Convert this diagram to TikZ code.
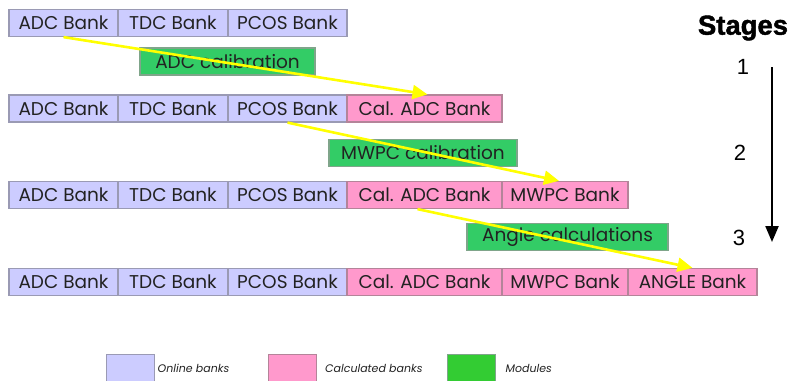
\documentclass[tikz,border=0pt]{standalone}
\usepackage{fontspec}
\setmainfont{Poppins}
\newfontfamily\headfont{Liberation Sans}
\newfontfamily\stagesfont{Liberation Sans Bold}[FakeBold=1.6]
\usetikzlibrary{arrows.meta}

\definecolor{onlinefill}{HTML}{CCCCFF}
\definecolor{onlinedraw}{HTML}{9A9AB4}
\definecolor{calcfill}{HTML}{FF99CC}
\definecolor{calcdraw}{HTML}{B48499}
\definecolor{modfill}{HTML}{33CC66}
\definecolor{modlegend}{HTML}{33CC33}
\definecolor{moddraw}{HTML}{7FA58A}
\definecolor{flowyellow}{HTML}{FFFF00}
\definecolor{inktext}{HTML}{222222}

\tikzset{
  bank/.style={draw, line width=1.2pt, inner sep=0pt, minimum height=27pt,
    font=\fontsize{18.5}{18.5}\selectfont, text=inktext},
  online/.style={bank, fill=onlinefill, draw=onlinedraw},
  calc/.style={bank, fill=calcfill, draw=calcdraw},
  module/.style={bank, fill=modfill, draw=moddraw},
  flow/.style={draw=flowyellow, line width=2.6pt,
    -{Triangle[length=15pt,width=14pt]}},
  stagearrow/.style={draw=black, line width=2.2pt,
    -{Triangle[length=16pt,width=13pt]}},
  stagenum/.style={font=\headfont\fontsize{22}{22}\selectfont, inner sep=0pt},
  legendbox/.style={draw, line width=1pt, inner sep=0pt, minimum width=48pt, minimum height=27pt},
  legendtext/.style={font=\itshape\fontsize{11}{11}\selectfont, text=inktext, anchor=west, inner sep=0pt}
}

\begin{document}
\begin{tikzpicture}[x=1pt, y=-1pt]
\useasboundingbox (0,0) rectangle (791,380);

% stage 0: online banks only
\node[online, minimum width=109pt] (a1) at (63.5,23) {ADC Bank};
\node[online, minimum width=110pt] (t1) at (173,23) {TDC Bank};
\node[online, minimum width=119pt] (p1) at (287.5,23) {PCOS Bank};

% stage 1
\node[online, minimum width=109pt] (a2) at (63.5,108.5) {ADC Bank};
\node[online, minimum width=110pt] (t2) at (173,108.5) {TDC Bank};
\node[online, minimum width=119pt] (p2) at (287.5,108.5) {PCOS Bank};
\node[calc, minimum width=155pt] (c2) at (424.5,108.5) {Cal. ADC Bank};

% stage 2
\node[online, minimum width=109pt] (a3) at (63.5,195) {ADC Bank};
\node[online, minimum width=110pt] (t3) at (173,195) {TDC Bank};
\node[online, minimum width=119pt] (p3) at (287.5,195) {PCOS Bank};
\node[calc, minimum width=155pt] (c3) at (424.5,195) {Cal. ADC Bank};
\node[calc, minimum width=126pt] (m3) at (565,195) {MWPC Bank};

% stage 3
\node[online, minimum width=109pt] (a4) at (63.5,282) {ADC Bank};
\node[online, minimum width=110pt] (t4) at (173,282) {TDC Bank};
\node[online, minimum width=119pt] (p4) at (287.5,282) {PCOS Bank};
\node[calc, minimum width=155pt] (c4) at (424.5,282) {Cal. ADC Bank};
\node[calc, minimum width=126pt] (m4) at (565,282) {MWPC Bank};
\node[calc, minimum width=129pt] (g4) at (692.5,282) {ANGLE Bank};

% processing modules
\node[module, minimum width=175pt] (adccal) at (227.5,61.5) {ADC calibration};
\node[module, minimum width=188pt] (mwpccal) at (423,153) {MWPC calibration};
\node[module, minimum width=201pt] (anglecalc) at (567.5,237) {Angle calculations};

% data flow
\draw[flow] (a1.south) -- ([xshift=3pt]c2.north);
\draw[flow] (p2.south) -- ([xshift=-6pt]m3.north);
\draw[flow] ([xshift=-7pt]c3.south) -- (g4.north);

% stage axis
\node[font=\stagesfont\fontsize{21}{21}\selectfont, inner sep=0pt] (stages) at (743,28)
  {\resizebox{90pt}{!}{Stages}};
\node[stagenum] (s1) at (743,67) {1};
\node[stagenum] (s2) at (740,153) {2};
\node[stagenum] (s3) at (739,238) {3};
\coordinate (axtop) at (772,67);
\coordinate (axbot) at (772,242);
\draw[stagearrow] (axtop) -- (axbot);

% legend
\node[legendbox, fill=onlinefill, draw=onlinedraw] (lon) at (130,368) {};
\node[legendtext] (lont) at ([xshift=3pt]lon.east) {Online banks};
\node[legendbox, fill=calcfill, draw=calcdraw] (lca) at (292.5,368) {};
\node[legendtext] (lcat) at ([xshift=8pt]lca.east) {Calculated banks};
\node[legendbox, fill=modlegend, draw=moddraw] (lmo) at (471,368) {};
\node[legendtext] (lmot) at ([xshift=10pt]lmo.east) {Modules};
\end{tikzpicture}
\end{document}
